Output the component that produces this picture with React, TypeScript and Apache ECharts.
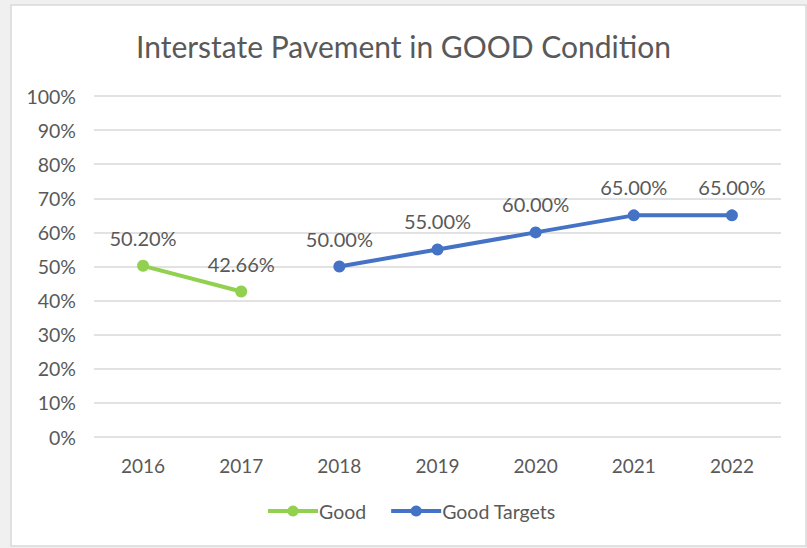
import React, { useEffect, useRef } from "react";
import * as echarts from "echarts";

const categories = ["2016", "2017", "2018", "2019", "2020", "2021", "2022"];
const goodValues: (number | null)[] = [50.2, 42.66, null, null, null, null, null];
const targetValues: (number | null)[] = [null, null, 50, 55, 60, 65, 65];
const titleText = "Interstate Pavement in GOOD Condition";

const FONT = "Lato, 'Open Sans', sans-serif";
const TEXT = "#595959";

export default function App() {
  const ref = useRef<HTMLDivElement>(null);
  useEffect(() => {
    document.body.style.margin = "0";
    const chart = echarts.init(ref.current!, null, { renderer: "svg" });
    const labelCfg = {
      show: true,
      position: "top" as const,
      distance: 12,
      color: TEXT,
      fontSize: 20,
      fontFamily: FONT,
      formatter: (p: any) => Number(p.value).toFixed(2) + "%",
    };
    chart.setOption({
      animation: false,
      backgroundColor: "#f0f0f0",
      graphic: [
        {
          type: "rect",
          z: -10,
          silent: true,
          shape: { x: 11, y: 5, width: 795, height: 541 },
          style: { fill: "#ffffff", stroke: "#d9d9d9", lineWidth: 1.5 },
        },
      ],
      title: {
        text: titleText,
        left: "center",
        top: 26,
        textStyle: { color: TEXT, fontSize: 30, fontWeight: "normal", fontFamily: FONT },
      },
      legend: {
        bottom: 27,
        left: 266,
        padding: 0,
        itemWidth: 50,
        itemHeight: 14,
        itemGap: 23,
        lineStyle: { width: 4 },
        textStyle: { color: TEXT, fontSize: 19.5, fontFamily: FONT, padding: [0, 0, 0, -4] },
        data: ["Good", "Good Targets"],
      },
      grid: { left: 94, right: 26, top: 96, bottom: 111, containLabel: false },
      xAxis: {
        type: "category",
        data: categories,
        boundaryGap: true,
        axisLine: { show: false },
        axisTick: { show: false },
        axisLabel: { color: TEXT, fontSize: 19, fontFamily: FONT, margin: 19 },
      },
      yAxis: {
        type: "value",
        min: 0,
        max: 100,
        interval: 10,
        axisLine: { show: false },
        axisTick: { show: false },
        splitLine: { lineStyle: { color: "#d9d9d9", width: 1.5 } },
        axisLabel: {
          color: TEXT,
          fontSize: 19.5,
          fontFamily: FONT,
          margin: 18,
          formatter: (v: number) => v + "%",
        },
      },
      series: [
        {
          name: "Good",
          type: "line",
          data: goodValues,
          color: "#92d050",
          lineStyle: { width: 4 },
          symbol: "circle",
          symbolSize: 12,
          label: labelCfg,
        },
        {
          name: "Good Targets",
          type: "line",
          data: targetValues,
          color: "#4472c4",
          lineStyle: { width: 4 },
          symbol: "circle",
          symbolSize: 12,
          label: labelCfg,
        },
      ],
    });
    return () => chart.dispose();
  }, []);
  return <div ref={ref} style={{ width: 807, height: 548 }} />;
}
